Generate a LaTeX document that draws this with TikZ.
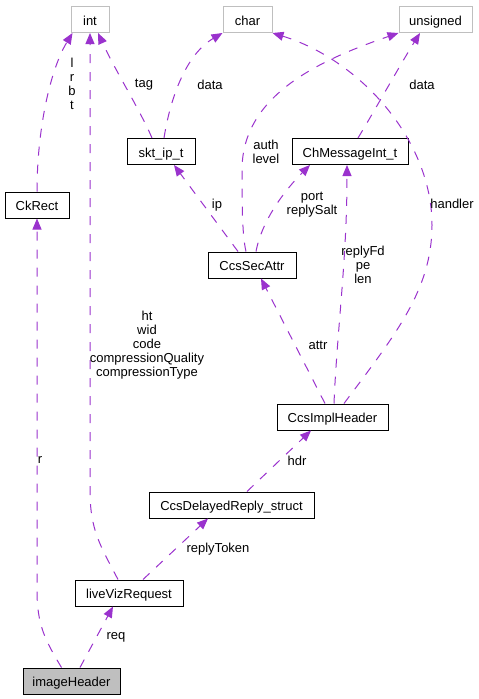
\documentclass[tikz,border=0pt]{standalone}
\usepackage{fontspec}
\setmainfont{Liberation Sans}
\usetikzlibrary{arrows.meta}
\definecolor{dxpurple}{HTML}{9A32CD}
\definecolor{dxgray}{HTML}{BFBFBF}
\begin{document}
\begin{tikzpicture}[x=1pt, y=-1pt,
    cls/.style={draw=black, line width=1pt, inner sep=0pt, minimum height=26pt, text height=12pt, text depth=1pt, font=\fontsize{13}{14}\selectfont},
    ext/.style={cls, draw=dxgray},
    memb/.style={draw=dxpurple, line width=1pt, dash pattern=on 9pt off 9pt, -{Triangle[length=11pt,width=9pt,fill=dxpurple]}},
    lbl/.style={inner sep=0pt, align=center, font=\fontsize{13}{14}\selectfont}]
    \useasboundingbox (0,0) rectangle (479,699);

    % Tipos basicos (arriba)
    \node[ext, minimum width=38pt] (int) at (90,19.5) {int};
    \node[ext, minimum width=49pt] (char) at (247.5,19.5) {char};
    \node[ext, minimum width=73pt] (unsigned) at (435.5,19.5) {unsigned};

    % Estructuras
    \node[cls, minimum width=68pt] (sktip) at (161,151.5) {skt\_ip\_t};
    \node[cls, minimum width=116pt] (chmsg) at (350,151.5) {ChMessageInt\_t};
    \node[cls, minimum width=64pt] (ckrect) at (37,205) {CkRect};
    \node[cls, minimum width=88pt] (secattr) at (252,265) {CcsSecAttr};
    \node[cls, minimum width=111pt] (implhdr) at (332.5,417) {CcsImplHeader};
    \node[cls, minimum width=165pt] (delayed) at (231.5,505) {CcsDelayedReply\_struct};
    \node[cls, minimum width=108pt] (lvreq) at (129,593) {liveVizRequest};
    \node[cls, fill=dxgray, minimum width=97pt] (imghdr) at (71.5,681) {imageHeader};

    % Relaciones hacia int
    \draw[memb] (ckrect.north) .. controls (37,130) and (50,70) .. ([xshift=2pt]int.south west);
    \draw[memb] ([xshift=-11pt]lvreq.north) .. controls (100,545) and (90,530) .. (90,490) -- (int.south);
    \draw[memb] ([xshift=-9pt]sktip.north) .. controls (140,110) and (115,70) .. ([xshift=8pt]int.south);
    \node[lbl] (l-lrbt) at (72,84) {l\\r\\b\\t};
    \node[lbl] (l-img) at (147,345) {ht\\wid\\code\\compressionQuality\\compressionType};
    \node[lbl] (l-tag) at (144,85) {tag};

    % Relaciones hacia char y unsigned
    \draw[memb] ([xshift=3pt]sktip.north) .. controls (170,100) and (185,55) .. (char.south west);
    \draw[memb] ([xshift=11.5pt]implhdr.north) .. controls (395,335) and (432,290) .. (432,225)
        .. controls (432,140) and (360,60) .. (char.south east);
    \draw[memb] ([xshift=-6pt]secattr.north) .. controls (242,235) and (242,200) .. (242,170)
        .. controls (242,95) and (320,60) .. (unsigned.south west);
    \draw[memb] ([xshift=8pt]chmsg.north) .. controls (375,110) and (400,65) .. ([xshift=-15.5pt]unsigned.south);
    \node[lbl] (l-data1) at (210,85) {data};
    \node[lbl] (l-handler) at (452,204) {handler};
    \node[lbl] (l-auth) at (266,152) {auth\\level};
    \node[lbl] (l-data2) at (422,85) {data};

    % Relaciones de CcsSecAttr
    \draw[memb] ([xshift=-14pt]secattr.north) -- ([xshift=13pt]sktip.south);
    \draw[memb] ([xshift=4pt]secattr.north) .. controls (262,220) and (285,190) .. ([xshift=-40pt]chmsg.south);
    \node[lbl] (l-ip) at (217,205) {ip};
    \node[lbl] (l-port) at (312,205) {port\\replySalt};

    % Relaciones de CcsImplHeader
    \draw[memb] ([xshift=-7.5pt]implhdr.north) -- ([xshift=9pt]secattr.south);
    \draw[memb] ([xshift=1.5pt]implhdr.north) .. controls (337,330) and (347,260) .. ([xshift=-3pt]chmsg.south);
    \node[lbl] (l-attr) at (318,345) {attr};
    \node[lbl] (l-reply) at (363,265) {replyFd\\pe\\len};

    % Cadena inferior
    \draw[memb] ([xshift=15.5pt]delayed.north) -- ([xshift=-21.5pt]implhdr.south);
    \draw[memb] ([xshift=14pt]lvreq.north) -- ([xshift=-23.5pt]delayed.south);
    \draw[memb] ([xshift=8.5pt]imghdr.north) -- ([xshift=-16pt]lvreq.south);
    \draw[memb] ([xshift=-10pt]imghdr.north) .. controls (45,640) and (37,625) .. (37,590) -- (ckrect.south);
    \node[lbl] (l-hdr) at (297,461) {hdr};
    \node[lbl] (l-token) at (218,549) {replyToken};
    \node[lbl] (l-req) at (116,637) {req};
    \node[lbl] (l-r) at (40,460) {r};
\end{tikzpicture}
\end{document}
